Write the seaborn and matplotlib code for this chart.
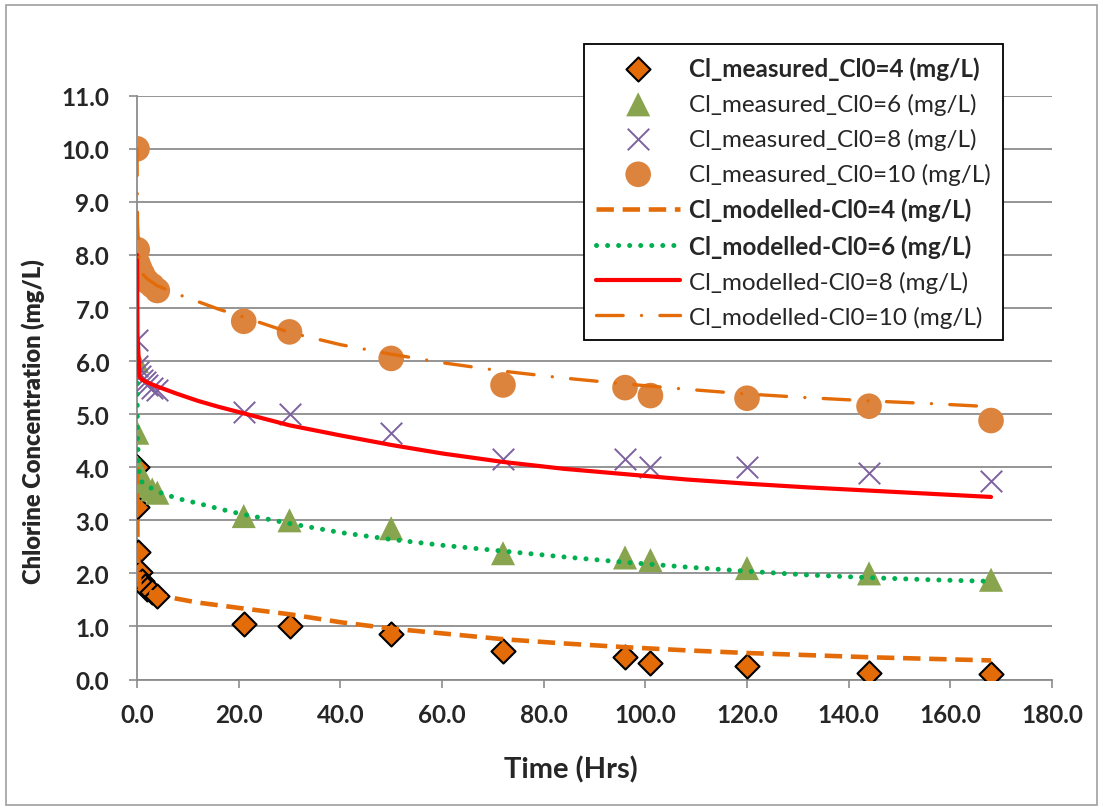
import matplotlib
matplotlib.use("Agg")
import matplotlib.pyplot as plt
import seaborn as sns
import numpy as np
from matplotlib.patches import Rectangle

# ---------------- data ----------------
t_meas = [0, 0.05, 0.1, 0.5, 1, 1.5, 2, 3, 4, 21, 30, 50, 72, 96, 101, 120, 144, 168]
cl_meas_4 = [4.0, 3.26, 2.40, 2.02, 1.85, 1.77, 1.71, 1.65, 1.57,
             1.04, 1.00, 0.85, 0.53, 0.42, 0.32, 0.26, 0.13, 0.11]
cl_meas_6 = [6.0, 4.65, 4.0, 3.9, 3.8, 3.72, 3.65, 3.58, 3.52,
             3.08, 3.00, 2.85, 2.38, 2.30, 2.25, 2.10, 2.00, 1.88]
cl_meas_8 = [6.4, 5.9, 5.8, 5.72, 5.65, 5.6, 5.55, 5.5, 5.45,
             5.05, 5.00, 4.65, 4.15, 4.15, 4.00, 4.00, 3.90, 3.75]
cl_meas_10 = [10.0, 8.1, 7.85, 7.75, 7.65, 7.55, 7.5, 7.42, 7.33,
              6.75, 6.55, 6.05, 5.55, 5.50, 5.35, 5.30, 5.15, 4.88]

t_model = [0, 0.1, 0.5, 1, 2, 4, 8, 12, 16, 20, 30, 40, 50, 60, 72, 84, 96,
           108, 120, 132, 144, 156, 168]
cl_model_4 = [4.0, 2.6, 1.75, 1.72, 1.68, 1.60, 1.52, 1.45, 1.40, 1.35, 1.23, 1.08,
              0.96, 0.87, 0.76, 0.68, 0.61, 0.55, 0.50, 0.46, 0.42, 0.39, 0.36]
cl_model_6 = [6.0, 4.5, 3.80, 3.72, 3.65, 3.54, 3.41, 3.32, 3.22, 3.13, 2.94, 2.77,
              2.64, 2.53, 2.42, 2.31, 2.21, 2.12, 2.04, 1.97, 1.92, 1.88, 1.85]
cl_model_8 = [8.0, 6.5, 5.70, 5.65, 5.60, 5.52, 5.38, 5.25, 5.14, 5.04, 4.79, 4.60,
              4.42, 4.26, 4.10, 3.97, 3.87, 3.77, 3.69, 3.62, 3.56, 3.50, 3.44]
cl_model_10 = [10.0, 8.6, 7.75, 7.65, 7.55, 7.42, 7.26, 7.12, 6.98, 6.86, 6.54, 6.31,
               6.13, 5.97, 5.81, 5.68, 5.57, 5.47, 5.38, 5.31, 5.25, 5.20, 5.14]

meas_labels = ["Cl_measured_Cl0=4 (mg/L)", "Cl_measured_Cl0=6 (mg/L)",
               "Cl_measured_Cl0=8 (mg/L)", "Cl_measured_Cl0=10 (mg/L)"]
model_labels = ["Cl_modelled-Cl0=4 (mg/L)", "Cl_modelled-Cl0=6 (mg/L)",
                "Cl_modelled-Cl0=8 (mg/L)", "Cl_modelled-Cl0=10 (mg/L)"]
x_ticks = [0, 20, 40, 60, 80, 100, 120, 140, 160, 180]
y_ticks = [0, 1, 2, 3, 4, 5, 6, 7, 8, 9, 10, 11]

# ---------------- style ----------------
sns.set_theme(style="white")
plt.rcParams["font.family"] = ["Lato", "DejaVu Sans"]

fig = plt.figure(figsize=(11.03, 8.12), dpi=100)
ax = fig.add_axes([0.1242, 0.1619, 0.8296, 0.7190])

grid_c = "#8c8c8c"

# measured
sns.scatterplot(x=t_meas, y=cl_meas_4, ax=ax, marker="D", s=150, color="#E36C09",
                edgecolor="black", linewidth=1.5, label=meas_labels[0], zorder=3, legend=False)
sns.scatterplot(x=t_meas, y=cl_meas_6, ax=ax, marker="^", s=300, color="#88A44E",
                edgecolor="none", linewidth=0, label=meas_labels[1], zorder=3, legend=False)
sns.scatterplot(x=t_meas, y=cl_meas_8, ax=ax, marker="x", s=240, color="#7D62A0",
                linewidth=1.4, label=meas_labels[2], zorder=3, legend=False)
sns.scatterplot(x=t_meas, y=cl_meas_10, ax=ax, marker="o", s=340, color="#DC843E",
                edgecolor="none", linewidth=0, label=meas_labels[3], zorder=3, legend=False)

# modelled
sns.lineplot(x=t_model, y=cl_model_4, ax=ax, color="#E36C09", lw=3.3, sort=False,
             estimator=None, label=model_labels[0], zorder=4, legend=False)
sns.lineplot(x=t_model, y=cl_model_6, ax=ax, color="#00B050", lw=3.6, sort=False,
             estimator=None, label=model_labels[1], zorder=4, legend=False)
sns.lineplot(x=t_model, y=cl_model_8, ax=ax, color="#FF0000", lw=3.0, sort=False,
             estimator=None, label=model_labels[2], zorder=4, legend=False)
sns.lineplot(x=t_model, y=cl_model_10, ax=ax, color="#E36C09", lw=2.4, sort=False,
             estimator=None, label=model_labels[3], zorder=4, legend=False)

lines = ax.get_lines()
lines[0].set_dashes([3.8, 1.9]); lines[0].set_dash_capstyle("butt")
lines[1].set_dashes([0.01, 2.2]); lines[1].set_dash_capstyle("round")
lines[3].set_dashes([8, 5.5, 0.01, 5.5]); lines[3].set_dash_capstyle("round")

ax.set_xlim(0, 180)
ax.set_ylim(0, 11)
ax.set_xticks(x_ticks)
ax.set_yticks(y_ticks)
ax.set_xticklabels([f"{v:.1f}" for v in x_ticks], fontweight="bold", fontsize=17.5)
ax.set_yticklabels([f"{v:.1f}" for v in y_ticks], fontweight="bold", fontsize=17.5)
ax.yaxis.grid(True, color=grid_c, lw=1.3)
ax.xaxis.grid(False)
ax.set_axisbelow(True)
for s in ["top", "right"]:
    ax.spines[s].set_visible(False)
for s in ["left", "bottom"]:
    ax.spines[s].set_color(grid_c)
    ax.spines[s].set_linewidth(1.3)
ax.tick_params(axis="both", which="major", direction="out", length=6, width=1.2,
               color=grid_c, bottom=True, left=True)
ax.tick_params(axis="x", pad=11)
ax.tick_params(axis="y", pad=14)

ax.set_xlabel("Time (Hrs)", fontsize=21, fontweight="bold")
ax.set_ylabel("Chlorine Concentration (mg/L)", fontsize=17, fontweight="heavy")
ax.xaxis.set_label_coords((571 - 137) / 915, (680.5 - 770) / 583.8)
ax.xaxis.label.set_va("center")
ax.yaxis.set_label_coords((33 - 137) / 915, (680.5 - 422) / 583.8)
ax.yaxis.label.set_va("center")

handles, labels = ax.get_legend_handles_labels()
leg = ax.legend(handles, labels, loc="upper right",
                bbox_to_anchor=(1003 / 1103, 1 - 45 / 812), bbox_transform=fig.transFigure,
                fontsize=17.5, frameon=True, fancybox=False, framealpha=1,
                edgecolor="black", borderaxespad=0, handlelength=3.45,
                handletextpad=0.37, labelspacing=0.53, borderpad=0.5, scatterpoints=1)
leg.get_frame().set_linewidth(1.3)
for i, txt in enumerate(leg.get_texts()):
    if i in (0, 4, 5):
        txt.set_fontweight("bold")

fig.patches.append(Rectangle((6 / 1103, 6 / 812), 1 - 12 / 1103, 1 - 12 / 812,
                             transform=fig.transFigure, fill=False,
                             edgecolor="#a0a0a0", lw=1.2))

fig.savefig("out.png", dpi=100)
